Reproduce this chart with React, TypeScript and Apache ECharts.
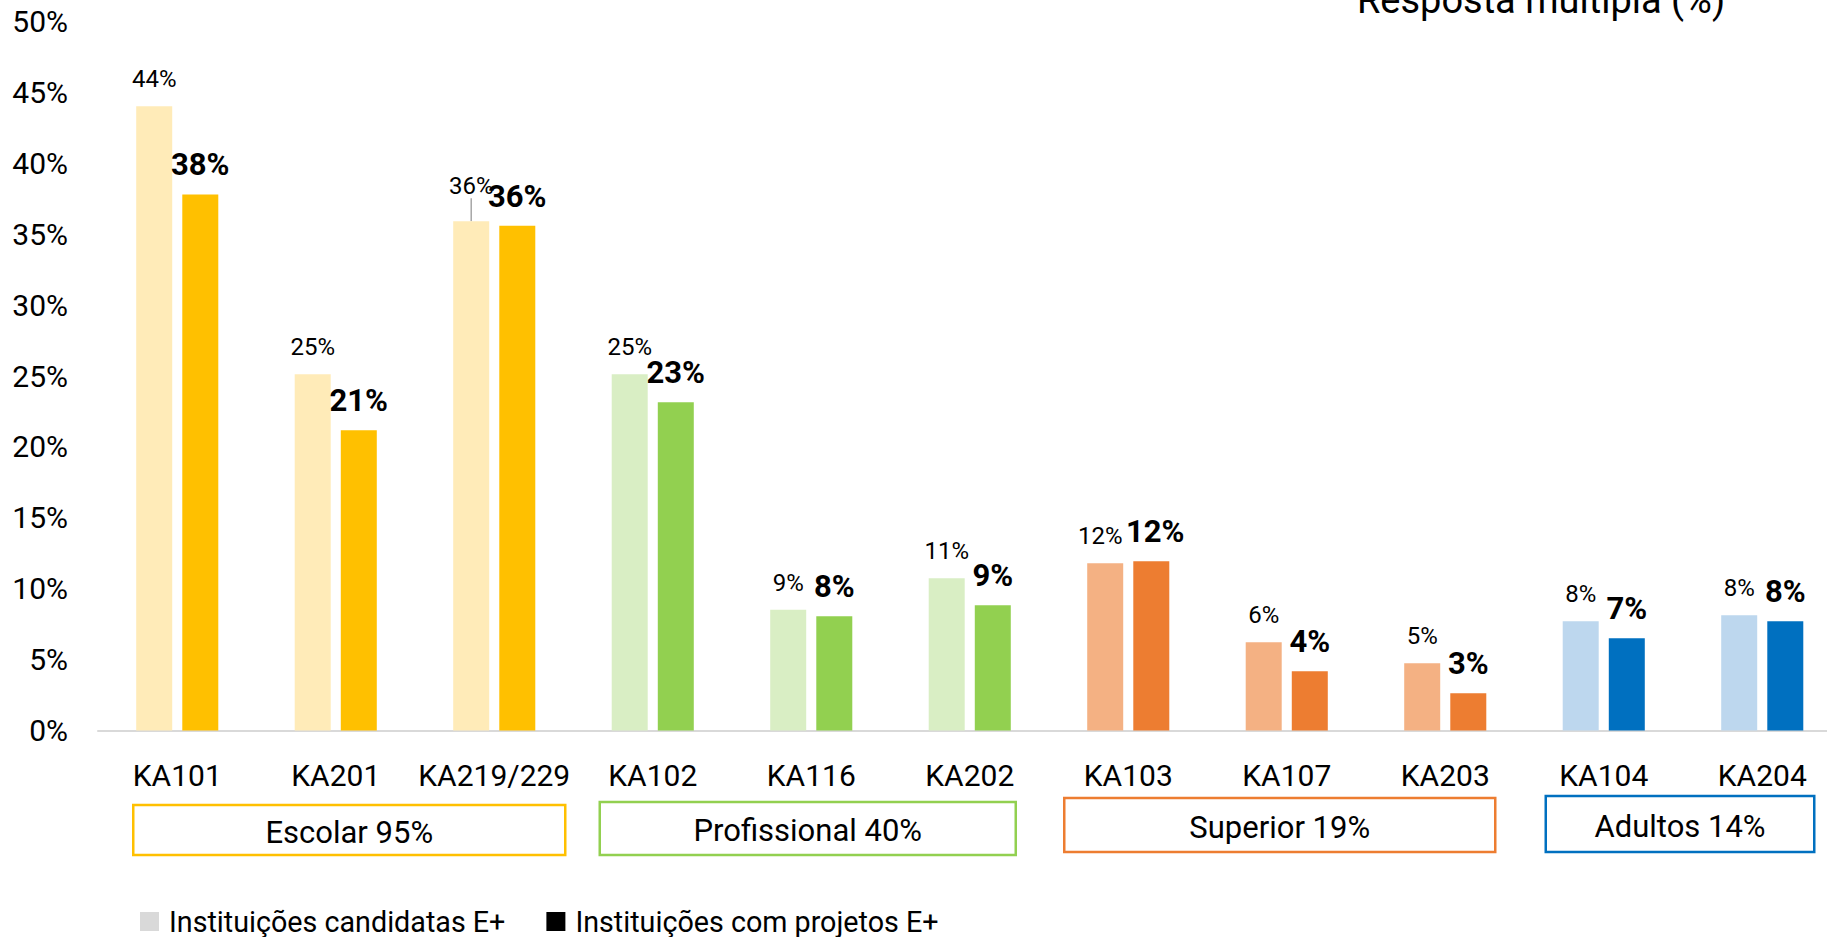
import React, { useEffect, useRef } from "react";
import * as echarts from "echarts";

const categories = ["KA101", "KA201", "KA219/229", "KA102", "KA116", "KA202", "KA103", "KA107", "KA203", "KA104", "KA204"];
const candidatas = [44.03, 25.13, 35.92, 25.13, 8.52, 10.74, 11.8, 6.23, 4.75, 7.71, 8.13];
const projetos = [37.8, 21.18, 35.6, 23.15, 8.06, 8.84, 11.94, 4.18, 2.63, 6.51, 7.71];
const categoryGroup = [0, 0, 0, 1, 1, 1, 2, 2, 2, 3, 3];

const groupNames = ["Escolar 95%", "Profissional 40%", "Superior 19%", "Adultos 14%"];
const groupFirst = ["KA101", "KA102", "KA103", "KA104"];
const groupLast = ["KA219/229", "KA202", "KA203", "KA204"];

const seriesNames = ["Instituições candidatas E+", "Instituições com projetos E+"];
const yTicks = { min: 0, max: 50, interval: 5 };
const titleText = "Resposta múltipla (%)";

// styles
const lightColors = ["#FFEBB8", "#D9EEC4", "#F4B183", "#BDD7EE"];
const darkColors = ["#FFC000", "#92D050", "#ED7D31", "#0070C0"];
const FONT = "Roboto, 'Noto Sans', sans-serif";
// box layout (offsets relative to first/last category centres, px)
const boxLayout = [
  { dl: -44, dr: 71, top: 805, bottom: 855 },
  { dl: -53, dr: 46, top: 802, bottom: 855 },
  { dl: -64, dr: 50, top: 798, bottom: 852 },
  { dl: -58, dr: 52, top: 796, bottom: 852 },
];

export default function App() {
  const ref = useRef<HTMLDivElement>(null);
  useEffect(() => {
    if (!ref.current) return;
    const chart = echarts.init(ref.current, undefined, { renderer: "svg" });
    const option: any = {
      animation: false,
      backgroundColor: "#ffffff",
      textStyle: { fontFamily: FONT },
      grid: { left: 98, top: 21.5, width: 1743.5, height: 709, containLabel: false, outerBoundsMode: "none" },
      legend: {
        left: 140,
        top: 907,
        padding: 0,
        icon: "rect",
        itemWidth: 19,
        itemHeight: 19,
        itemGap: 41,
        textStyle: { fontSize: 28.7, color: "#000", fontFamily: FONT, padding: [0, 0, 0, 5] },
        data: seriesNames,
      },
      xAxis: {
        type: "category",
        data: categories,
        axisLine: { lineStyle: { color: "#D9D9D9", width: 2 } },
        axisTick: { show: false },
        axisLabel: { fontSize: 30, color: "#000", margin: 30, fontFamily: FONT, interval: 0 },
        splitLine: { show: false },
      },
      yAxis: {
        type: "value",
        min: yTicks.min,
        max: yTicks.max,
        interval: yTicks.interval,
        axisLine: { show: false },
        axisTick: { show: false },
        splitLine: { show: false },
        axisLabel: { formatter: "{value}%", fontSize: 30, color: "#000", margin: 30, fontFamily: FONT },
      },
      series: [
        {
          name: seriesNames[0],
          type: "bar",
          barWidth: 36,
          barGap: "28%",
          itemStyle: { color: "#D9D9D9" },
          label: {
            show: true,
            position: "top",
            distance: 15,
            fontSize: 24,
            color: "#000",
            fontFamily: FONT,
            formatter: (p: any) => Math.round(p.value) + "%",
          },
          labelLayout: (p: any) => (p.dataIndex === 2 ? { dy: -8 } : p.dataIndex === 6 ? { dx: -5 } : {}),
          data: candidatas.map((v, i) => {
            const item: any = { value: v, itemStyle: { color: lightColors[categoryGroup[i]] } };
            if (i === 2) item.labelLine = { show: true, lineStyle: { color: "#A6A6A6", width: 1.5 } };
            return item;
          }),
        },
        {
          name: seriesNames[1],
          type: "bar",
          barWidth: 36,
          barGap: "28%",
          itemStyle: { color: "#000000" },
          label: {
            show: true,
            position: "top",
            distance: 14,
            fontSize: 31,
            fontWeight: "bold",
            color: "#000",
            fontFamily: FONT,
            formatter: (p: any) => Math.round(p.value) + "%",
          },
          labelLayout: (p: any) => (p.dataIndex === 6 ? { dx: 4 } : {}),
          data: projetos.map((v, i) => ({ value: v, itemStyle: { color: darkColors[categoryGroup[i]] } })),
        },
      ],
    };
    chart.setOption(option);

    const graphics: any[] = [
      {
        type: "text",
        x: 1541,
        y: 0,
        style: { text: titleText, fontSize: 38, fill: "#000", fontFamily: FONT, align: "center", verticalAlign: "middle" },
      },
    ];
    groupNames.forEach((name, g) => {
      const x1 = (chart.convertToPixel({ xAxisIndex: 0 }, groupFirst[g]) as number) + boxLayout[g].dl;
      const x2 = (chart.convertToPixel({ xAxisIndex: 0 }, groupLast[g]) as number) + boxLayout[g].dr;
      const { top, bottom } = boxLayout[g];
      graphics.push({
        type: "rect",
        shape: { x: x1, y: top, width: x2 - x1, height: bottom - top },
        style: { fill: "none", stroke: darkColors[g], lineWidth: 2.5 },
      });
      graphics.push({
        type: "text",
        x: (x1 + x2) / 2,
        y: (top + bottom) / 2 + 2,
        style: { text: name, fontSize: 31, fill: "#000", fontFamily: FONT, align: "center", verticalAlign: "middle" },
      });
    });
    chart.setOption({ graphic: graphics });

    return () => chart.dispose();
  }, []);
  return <div ref={ref} style={{ position: "fixed", left: 0, top: 0, width: 1827, height: 937 }} />;
}
